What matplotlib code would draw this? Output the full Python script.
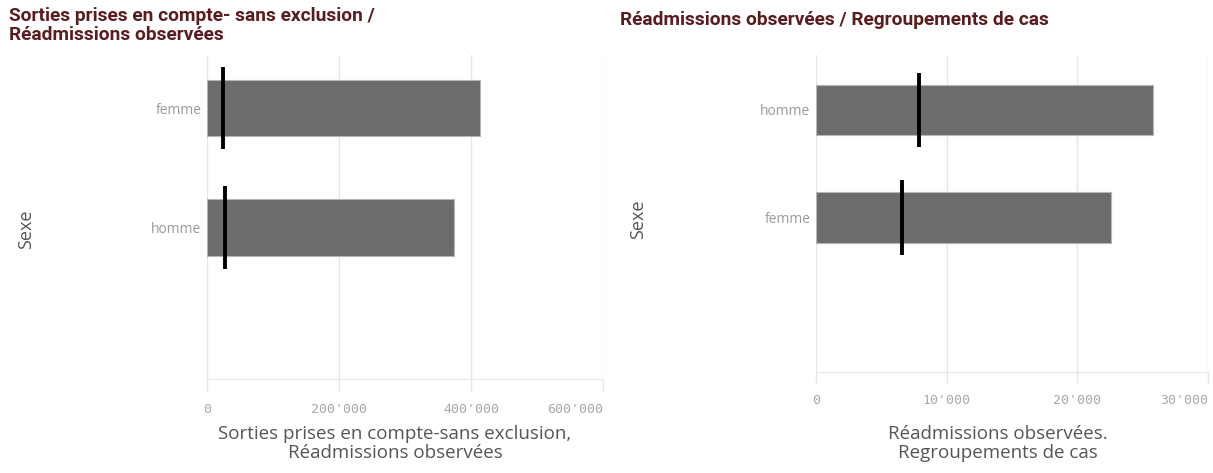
import matplotlib
matplotlib.use("Agg")
import matplotlib.pyplot as plt
from matplotlib.ticker import FuncFormatter

# ---- data ----
left_categories = ["femme", "homme"]
left_bars = [414000, 374000]          # Sorties prises en compte-sans exclusion
left_markers = [24000, 27000]         # Réadmissions observées
left_ticks = [0, 200000, 400000, 600000]

right_categories = ["homme", "femme"]
right_bars = [25800, 22550]           # Réadmissions observées
right_markers = [7850, 6550]          # Regroupements de cas
right_ticks = [0, 10000, 20000, 30000]

left_title = "Sorties prises en compte- sans exclusion /\nRéadmissions observées"
right_title = "Réadmissions observées / Regroupements de cas"
left_xlabel = "Sorties prises en compte-sans exclusion,\nRéadmissions observées"
right_xlabel = "Réadmissions observées.\nRegroupements de cas"
ylabel = "Sexe"

TITLE_COLOR = "#5a1c1e"
BAR_COLOR = "#6c6c6c"
GRID_COLOR = "#e6e6e6"
TICK_COLOR = "#a8a8a8"
LABEL_COLOR = "#555555"

W, H = 1213, 473
fig = plt.figure(figsize=(W / 100, H / 100), dpi=100)

def fmt(x, pos):
    return f"{x:,.0f}".replace(",", "'")

def make_panel(rect, cats, bars, marks, ticks, ylim, ticklen, xlabel, xlab_xy, ylab_xy):
    ax = fig.add_axes(rect)
    y = list(range(len(cats)))
    ax.barh(y, bars, height=0.47, color=BAR_COLOR, edgecolor="#b5b5b5",
            linewidth=0.8, zorder=2)
    ax.vlines(marks, [v - 0.345 for v in y], [v + 0.345 for v in y],
              color="black", linewidth=2.8, zorder=3)
    ax.set_xlim(ticks[0], ticks[-1])
    ax.set_ylim(*ylim)
    ax.set_xticks(ticks)
    ax.xaxis.set_major_formatter(FuncFormatter(fmt))
    ax.set_yticks(y)
    ax.set_yticklabels(cats)
    ax.grid(axis="x", color=GRID_COLOR, linewidth=1, zorder=0)
    for s in ["top", "right", "left"]:
        ax.spines[s].set_visible(False)
    ax.spines["bottom"].set_color(GRID_COLOR)
    ax.tick_params(axis="x", length=ticklen, width=1, color=GRID_COLOR,
                   labelcolor=TICK_COLOR, labelsize=9.5, pad=8)
    ax.tick_params(axis="y", length=0, labelcolor="#9a9a9a", labelsize=10, pad=4)
    for lab in ax.get_xticklabels():
        lab.set_fontfamily("DejaVu Sans Mono")
    for lab in ax.get_yticklabels():
        lab.set_fontfamily("Open Sans")
    last = ax.get_xticklabels()[-1]
    last.set_horizontalalignment("right")
    ax.set_xlabel(xlabel, fontsize=13.5, color=LABEL_COLOR, family="Open Sans",
                  va="top", linespacing=1.05)
    ax.xaxis.set_label_coords(*xlab_xy)
    ax.set_ylabel(ylabel, fontsize=13, color=LABEL_COLOR, family="Open Sans",
                  va="center")
    ax.yaxis.set_label_coords(*ylab_xy)
    return ax

# left panel
lx0, lx1, ly0, ly1 = 207, 603, 55, 379
axL = make_panel([lx0 / W, 1 - ly1 / H, (lx1 - lx0) / W, (ly1 - ly0) / H],
                 left_categories, left_bars, left_markers, left_ticks,
                 (2.268, -0.444), 9.5, left_xlabel,
                 ((395 - lx0) / (lx1 - lx0), (ly1 - 425) / (ly1 - ly0)),
                 ((26 - lx0) / (lx1 - lx0), (ly1 - 229) / (ly1 - ly0)))

# right panel
rx0, rx1, ry0, ry1 = 816, 1208, 55, 372
axR = make_panel([rx0 / W, 1 - ry1 / H, (rx1 - rx0) / W, (ry1 - ry0) / H],
                 right_categories, right_bars, right_markers, right_ticks,
                 (2.433, -0.51), 8, right_xlabel,
                 ((998 - rx0) / (rx1 - rx0), (ry1 - 425) / (ry1 - ry0)),
                 ((638 - rx0) / (rx1 - rx0), (ry1 - 219) / (ry1 - ry0)))

fig.text(9 / W, 1 - 7 / H, left_title, ha="left", va="top", fontsize=13.8,
         fontweight="bold", color=TITLE_COLOR, family="Roboto", linespacing=1.1)
fig.text(620 / W, 1 - 11 / H, right_title, ha="left", va="top", fontsize=13.8,
         fontweight="bold", color=TITLE_COLOR, family="Roboto")

fig.savefig("out.png", dpi=100, facecolor="white")
